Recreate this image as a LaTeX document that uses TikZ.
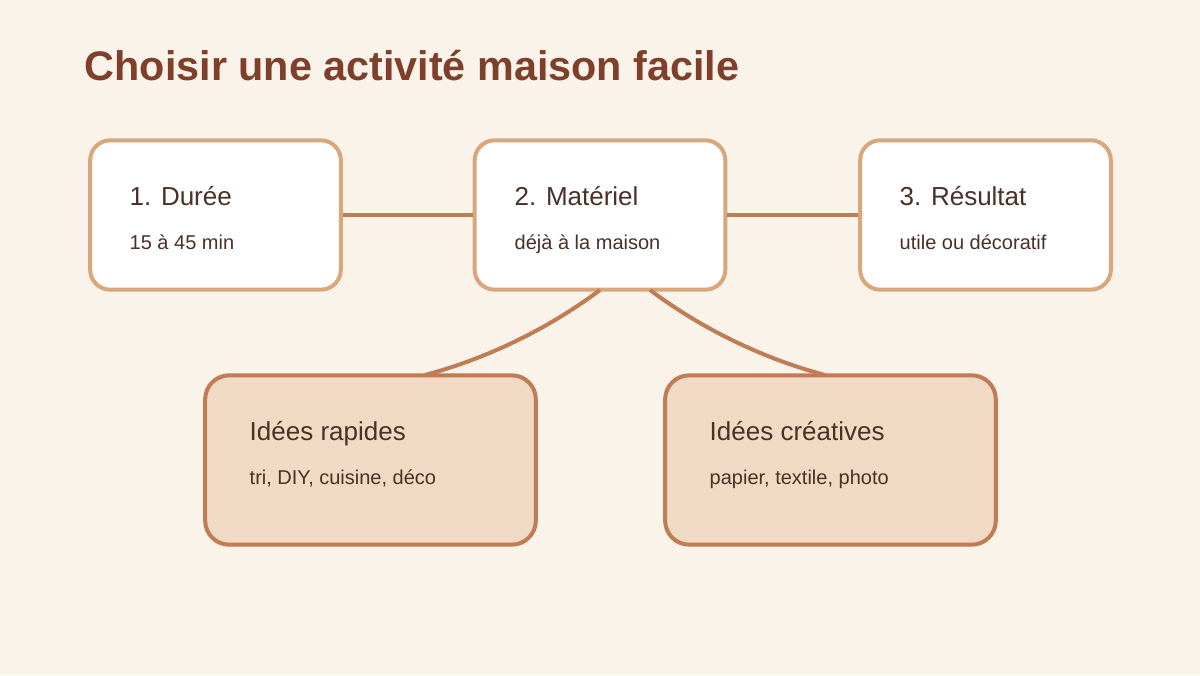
\documentclass[tikz,border=0pt]{standalone}
\usepackage{fontspec}
\setmainfont{Liberation Sans}
\definecolor{bg}{HTML}{FAF3EA}
\definecolor{ttl}{HTML}{7F3F2A}
\definecolor{txt}{HTML}{4A3026}
\definecolor{lb}{HTML}{D8A77C}
\definecolor{db}{HTML}{C07C55}
\definecolor{df}{HTML}{F0DAC4}
\begin{document}
\begin{tikzpicture}[x=0.75pt,y=-0.75pt,
 top/.style={draw=lb,line width=3pt,fill=white,rounded corners=15pt,minimum width=188pt,minimum height=112pt},
 bot/.style={draw=db,line width=3pt,fill=df,rounded corners=18pt,minimum width=248pt,minimum height=127pt},
 con/.style={draw=db,line width=3pt},
 h/.style={text=txt,anchor=base west,font=\fontsize{19.5}{22}\selectfont},
 s/.style={text=txt,anchor=base west,font=\fontsize{15}{18}\selectfont}]
\fill[bg] (0,0) rectangle (1200,675);
\useasboundingbox (0,0) rectangle (1200,675);
\node[anchor=base west,text=ttl,font=\bfseries\fontsize{31}{36}\selectfont] (t) at (80,80) {Choisir une activité maison facile};
\node[top] (a) at (215.5,215) {};
\node[top] (b) at (600,215) {};
\node[top] (c) at (985.5,215) {};
\node[bot] (d) at (370.5,460) {};
\node[bot] (e) at (830.5,460) {};
\draw[con] (a.east) -- (b.west);
\draw[con] (b.east) -- (c.west);
\coordinate (b1) at (600,290);
\coordinate (b2) at (650,290);
\coordinate (d1) at (425,375);
\coordinate (e1) at (825,375);
\draw[con] (b1) .. controls (560,320) and (500,355) .. (d1);
\draw[con] (b2) .. controls (690,320) and (750,355) .. (e1);
\node[h] (a1) at (125,205) {1. Durée};
\node[s] (a2) at (125,249) {15 à 45 min};
\node[h] (b3) at (510,205) {2. Matériel};
\node[s] (b4) at (510,249) {déjà à la maison};
\node[h] (c1) at (895,205) {3. Résultat};
\node[s] (c2) at (895,249) {utile ou décoratif};
\node[h] (d2) at (245,440) {Idées rapides};
\node[s] (d3) at (245,484) {tri, DIY, cuisine, déco};
\node[h] (e2) at (705,440) {Idées créatives};
\node[s] (e3) at (705,484) {papier, textile, photo};
\end{tikzpicture}
\end{document}
